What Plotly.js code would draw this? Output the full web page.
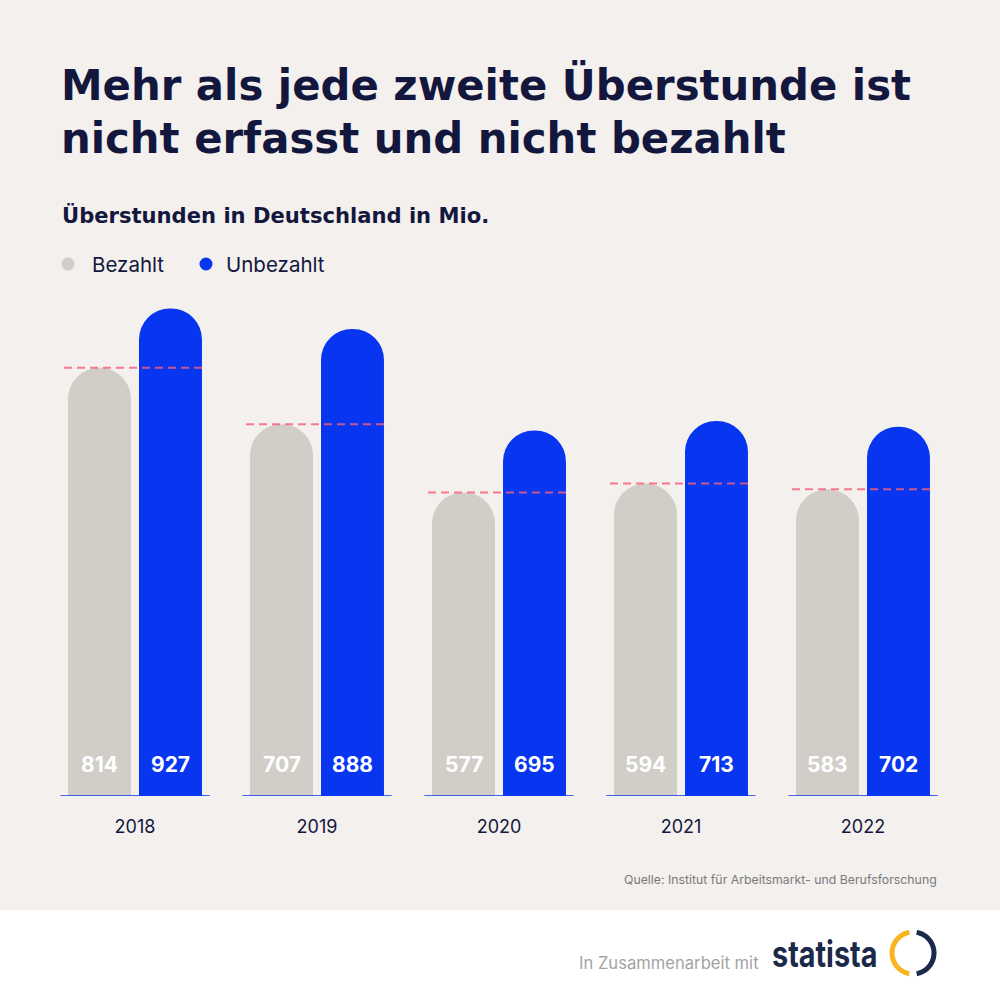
<!DOCTYPE html>
<html>
<head>
<meta charset="utf-8">
<script src="https://cdn.plot.ly/plotly-3.0.1.min.js"></script>
<style>
html,body{margin:0;padding:0;background:#F3F0EE;}
#chart{width:1000px;height:1000px;}
</style>
</head>
<body>
<div id="chart"></div>
<script>
// ---- data ----
const years = ["2018", "2019", "2020", "2021", "2022"];
const bezahlt = [814, 707, 577, 594, 583];
const unbezahlt = [927, 888, 695, 713, 702];
const seriesNames = ["Bezahlt", "Unbezahlt"];

const titleLines = ["Mehr als jede zweite Überstunde ist", "nicht erfasst und nicht bezahlt"];
const subtitle = "Überstunden in Deutschland in Mio.";
const sourceText = "Quelle: Institut für Arbeitsmarkt- und Berufsforschung";
const footerText = "In Zusammenarbeit mit";
const brandText = "statista";

// ---- style ----
const BG = "#F3F0EE";
const GRAY = "#D1CEC8";
const BLUE = "#0836F0";
const NAVY = "#13173D";
const FONT = "Inter, 'Open Sans', sans-serif";
const HFONT = "'DejaVu Sans', Inter, sans-serif";

const M = {l: 44, r: 46, t: 290, b: 204};
const PW = 1000 - M.l - M.r, PH = 1000 - M.t - M.b;
const px = x => (x - M.l) / PW;
const py = y => (1000 - M.b - y) / PH;

const xs = years.map((_, i) => i);

const traces = [
  {type: "bar", name: seriesNames[0], x: xs, y: bezahlt,
   marker: {color: GRAY, cornerradius: "50%", line: {width: 0}},
   hoverinfo: "skip", textposition: "none"},
  {type: "bar", name: seriesNames[1], x: xs, y: unbezahlt,
   marker: {color: BLUE, cornerradius: "50%", line: {width: 0}},
   hoverinfo: "skip", textposition: "none"}
];

const shapes = [];
const annotations = [];

// white footer band
shapes.push({type: "rect", xref: "paper", yref: "paper", layer: "below",
  x0: px(-5), x1: px(1005), y0: py(910), y1: py(1005),
  fillcolor: "#FFFFFF", line: {width: 0}});

// baselines and dashed reference lines
xs.forEach((x, i) => {
  shapes.push({type: "line", xref: "x", yref: "y", x0: x - 0.41, x1: x + 0.41, y0: 0, y1: 0,
    line: {color: BLUE, width: 1.3}, layer: "above"});
  shapes.push({type: "line", xref: "x", yref: "y", x0: x - 0.39, x1: x + 0.39,
    y0: bezahlt[i], y1: bezahlt[i],
    line: {color: "rgba(245,95,120,0.82)", width: 2, dash: "8px,5px"}, layer: "above"});
  annotations.push({xref: "x", yref: "y", x: x, y: 0, xshift: -35.5, yshift: 32,
    text: "<b>" + bezahlt[i] + "</b>", showarrow: false,
    font: {family: FONT, size: 21, color: "#FFFFFF"}});
  annotations.push({xref: "x", yref: "y", x: x, y: 0, xshift: 35.5, yshift: 32,
    text: "<b>" + unbezahlt[i] + "</b>", showarrow: false,
    font: {family: FONT, size: 21, color: "#FFFFFF"}});
});

// titles
annotations.push({xref: "paper", yref: "paper", x: px(59), y: py(85), xanchor: "left", yanchor: "middle",
  text: "<b>" + titleLines[0] + "</b>", showarrow: false, font: {family: HFONT, size: 41.8, color: NAVY}});
annotations.push({xref: "paper", yref: "paper", x: px(59), y: py(139), xanchor: "left", yanchor: "middle",
  text: "<b>" + titleLines[1] + "</b>", showarrow: false, font: {family: HFONT, size: 41.8, color: NAVY}});
annotations.push({xref: "paper", yref: "paper", x: px(60), y: py(215), xanchor: "left", yanchor: "middle",
  text: "<b>" + subtitle + "</b>", showarrow: false, font: {family: HFONT, size: 21.1, color: NAVY}});

// legend
const legendItems = [{cx: 68, tx: 90, color: GRAY, label: seriesNames[0]},
                     {cx: 206, tx: 224, color: BLUE, label: seriesNames[1]}];
legendItems.forEach(it => {
  shapes.push({type: "circle", xref: "paper", yref: "paper",
    x0: px(it.cx - 6.5), x1: px(it.cx + 6.5), y0: py(264 + 6.5), y1: py(264 - 6.5),
    fillcolor: it.color, line: {width: 0}});
  annotations.push({xref: "paper", yref: "paper", x: px(it.tx), y: py(264), xanchor: "left", yanchor: "middle",
    text: it.label, showarrow: false, font: {family: FONT, size: 20.5, color: NAVY}});
});

// source
annotations.push({xref: "paper", yref: "paper", x: px(939), y: py(879), xanchor: "right", yanchor: "middle",
  text: sourceText, showarrow: false, font: {family: FONT, size: 12.3, color: "#7A7A7A"}});

// footer
annotations.push({xref: "paper", yref: "paper", x: px(761), y: py(963), xanchor: "right", yanchor: "middle",
  text: footerText, showarrow: false, font: {family: FONT, size: 16.6, color: "#A3A3A3"}});
annotations.push({xref: "paper", yref: "paper", x: px(770), y: py(954), xanchor: "left", yanchor: "middle",
  text: "<b>" + brandText + "</b>", showarrow: false,
  font: {family: FONT, size: 36, color: "#1B2A4A"}});

// logo arcs
function arcPath(cx, cy, r, a0, a1) {
  let d = "";
  const n = 40;
  for (let k = 0; k <= n; k++) {
    const a = (a0 + (a1 - a0) * k / n) * Math.PI / 180;
    const x = cx + r * Math.cos(a), y = cy - r * Math.sin(a);
    d += (k === 0 ? "M" : "L") + px(x).toFixed(5) + "," + py(y).toFixed(5);
  }
  return d;
}
shapes.push({type: "path", xref: "paper", yref: "paper", path: arcPath(913, 953, 21, 100, 260),
  line: {color: "#F7B521", width: 5}});
shapes.push({type: "path", xref: "paper", yref: "paper", path: arcPath(913, 953, 21, 80, -80),
  line: {color: "#1B2A4A", width: 5}});

const layout = {
  width: 1000, height: 1000,
  margin: M,
  paper_bgcolor: BG, plot_bgcolor: BG,
  showlegend: false,
  barmode: "group", bargap: 0.22, bargroupgap: 0.113,
  xaxis: {range: [-0.5, 4.5], tickvals: xs, ticktext: years, showgrid: false, zeroline: false,
    showline: false, ticks: "outside", ticklen: 14, tickcolor: "rgba(0,0,0,0)",
    tickfont: {family: FONT, size: 18, color: NAVY}, fixedrange: true},
  yaxis: {range: [0, 962], visible: false, showgrid: false, zeroline: false, fixedrange: true},
  shapes: shapes,
  annotations: annotations,
  font: {family: FONT}
};

Plotly.newPlot("chart", traces, layout, {displayModeBar: false, staticPlot: true}).then(gd => {
  // condense the brand word horizontally, as in the logo type
  gd.querySelectorAll("g.annotation text").forEach(t => {
    if (t.textContent === brandText) {
      const bb = t.getBBox();
      const prev = t.getAttribute("transform") || "";
      t.setAttribute("transform", prev + " translate(" + bb.x + ",0) scale(0.8,1) translate(" + (-bb.x) + ",0)");
    }
  });
});
</script>
</body>
</html>
